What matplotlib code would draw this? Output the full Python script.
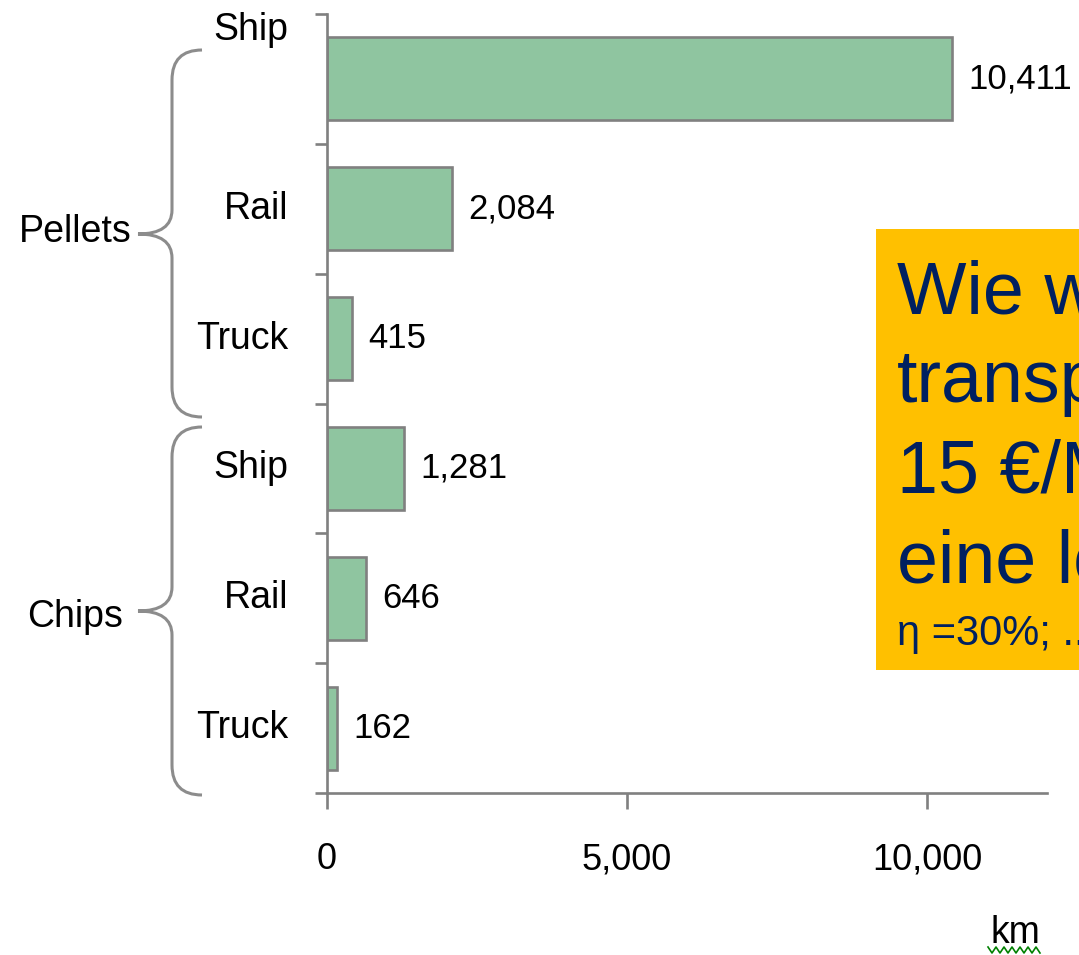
import numpy as np
import matplotlib
matplotlib.use("Agg")
import matplotlib.pyplot as plt
from matplotlib.path import Path
from matplotlib.patches import PathPatch, Rectangle
from matplotlib.lines import Line2D

plt.rcParams['font.family'] = ['Liberation Sans', 'DejaVu Sans']

# data
groups = ['Pellets', 'Chips']
modes = ['Ship', 'Rail', 'Truck', 'Ship', 'Rail', 'Truck']
distances = [10411, 2084, 415, 1281, 646, 162]
value_labels = ['10,411', '2,084', '415', '1,281', '646', '162']
xticks = [0, 5000, 10000]
xtick_labels = ['0', '5,000', '10,000']
box_lines = ['Wie weit', 'transport', '15 €/MWh', 'eine lohn']
box_note = 'η =30%; ...'

W, H = 1079, 955


def fx(x):
    return x / W


def fy(y):
    return 1 - y / H


fig = plt.figure(figsize=(W / 100, H / 100), dpi=100)
ax = fig.add_axes([fx(327), fy(793), 720 / W, (793 - 14) / H])

pos = np.arange(len(modes))
ax.barh(pos, distances, height=0.64, color='#8fc5a0',
        edgecolor='#808080', linewidth=1.9, zorder=2)
ax.set_ylim(len(modes) - 0.5, -0.5)
ax.set_xlim(0, 12000)

ax.set_yticks(np.arange(len(modes) + 1) - 0.5)
ax.set_yticklabels([])
ax.tick_params(axis='y', length=8.6, width=1.9, color='#808080', direction='out')
ax.set_xticks(xticks)
ax.set_xticklabels(xtick_labels, fontsize=26)
ax.tick_params(axis='x', length=11.5, width=1.9, color='#808080', pad=24)
for s in ['top', 'right']:
    ax.spines[s].set_visible(False)
for s in ['left', 'bottom']:
    ax.spines[s].set_color('#808080')
    ax.spines[s].set_linewidth(1.9)

# value labels
for p, d, lab in zip(pos, distances, value_labels):
    ax.annotate(lab, xy=(d, p), xytext=(12, 0), textcoords='offset points',
                va='center', fontsize=25)

# category labels (first one sits higher in the original)
label_dy = [35, 0, 0, 0, 0, 0]
for p, m, dy in zip(pos, modes, label_dy):
    ax.annotate(m, xy=(0, p), xycoords=('axes fraction', 'data'),
                xytext=(-28, dy), textcoords='offset points',
                ha='right', va='center', fontsize=27, annotation_clip=False)


# braces for the groups
def brace(top, tip, bottom, x_end=202, x_stem=172, x_tip=138, r=30, rt=24):
    pts = [(x_end, top), (x_stem, top), (x_stem, top + r),
           (x_stem, tip - rt), (x_stem, tip), (x_tip, tip),
           (x_stem, tip), (x_stem, tip + rt),
           (x_stem, bottom - r), (x_stem, bottom), (x_end, bottom)]
    codes = [Path.MOVETO, Path.CURVE3, Path.CURVE3,
             Path.LINETO, Path.CURVE3, Path.CURVE3,
             Path.CURVE3, Path.CURVE3,
             Path.LINETO, Path.CURVE3, Path.CURVE3]
    verts = [(fx(x), fy(y)) for x, y in pts]
    return PathPatch(Path(verts, codes), transform=fig.transFigure,
                     facecolor='none', edgecolor='#8c8c8c', lw=2.2)


fig.add_artist(brace(50, 234, 417))
fig.add_artist(brace(427, 611, 795))
fig.text(fx(132), fy(232), groups[0], ha='right', va='center', fontsize=27)
fig.text(fx(123), fy(617), groups[1], ha='right', va='center', fontsize=27)

# axis unit with the spell-check squiggle
fig.text(fx(1015), fy(943), 'km', ha='center', va='baseline', fontsize=27)
sx = np.arange(988, 1041, 4)
sy = np.where(np.arange(len(sx)) % 2 == 0, 947, 953)
fig.add_artist(Line2D(fx(sx), fy(sy), transform=fig.transFigure,
                      color='#008000', lw=1.2))

# orange callout box, running off the right edge as in the original
box = Rectangle((fx(876), fy(670)), 1 - fx(876), fy(229) - fy(670),
                transform=fig.transFigure, facecolor='#ffc000',
                edgecolor='none', zorder=3)
fig.add_artist(box)
for line, base in zip(box_lines, [313, 402, 492, 582]):
    fig.text(fx(897), fy(base), line, va='baseline', fontsize=53,
             color='#002060', zorder=4)
fig.text(fx(897), fy(645), box_note, va='baseline', fontsize=30,
         color='#002060', zorder=4)

fig.savefig('out.png', dpi=100)
